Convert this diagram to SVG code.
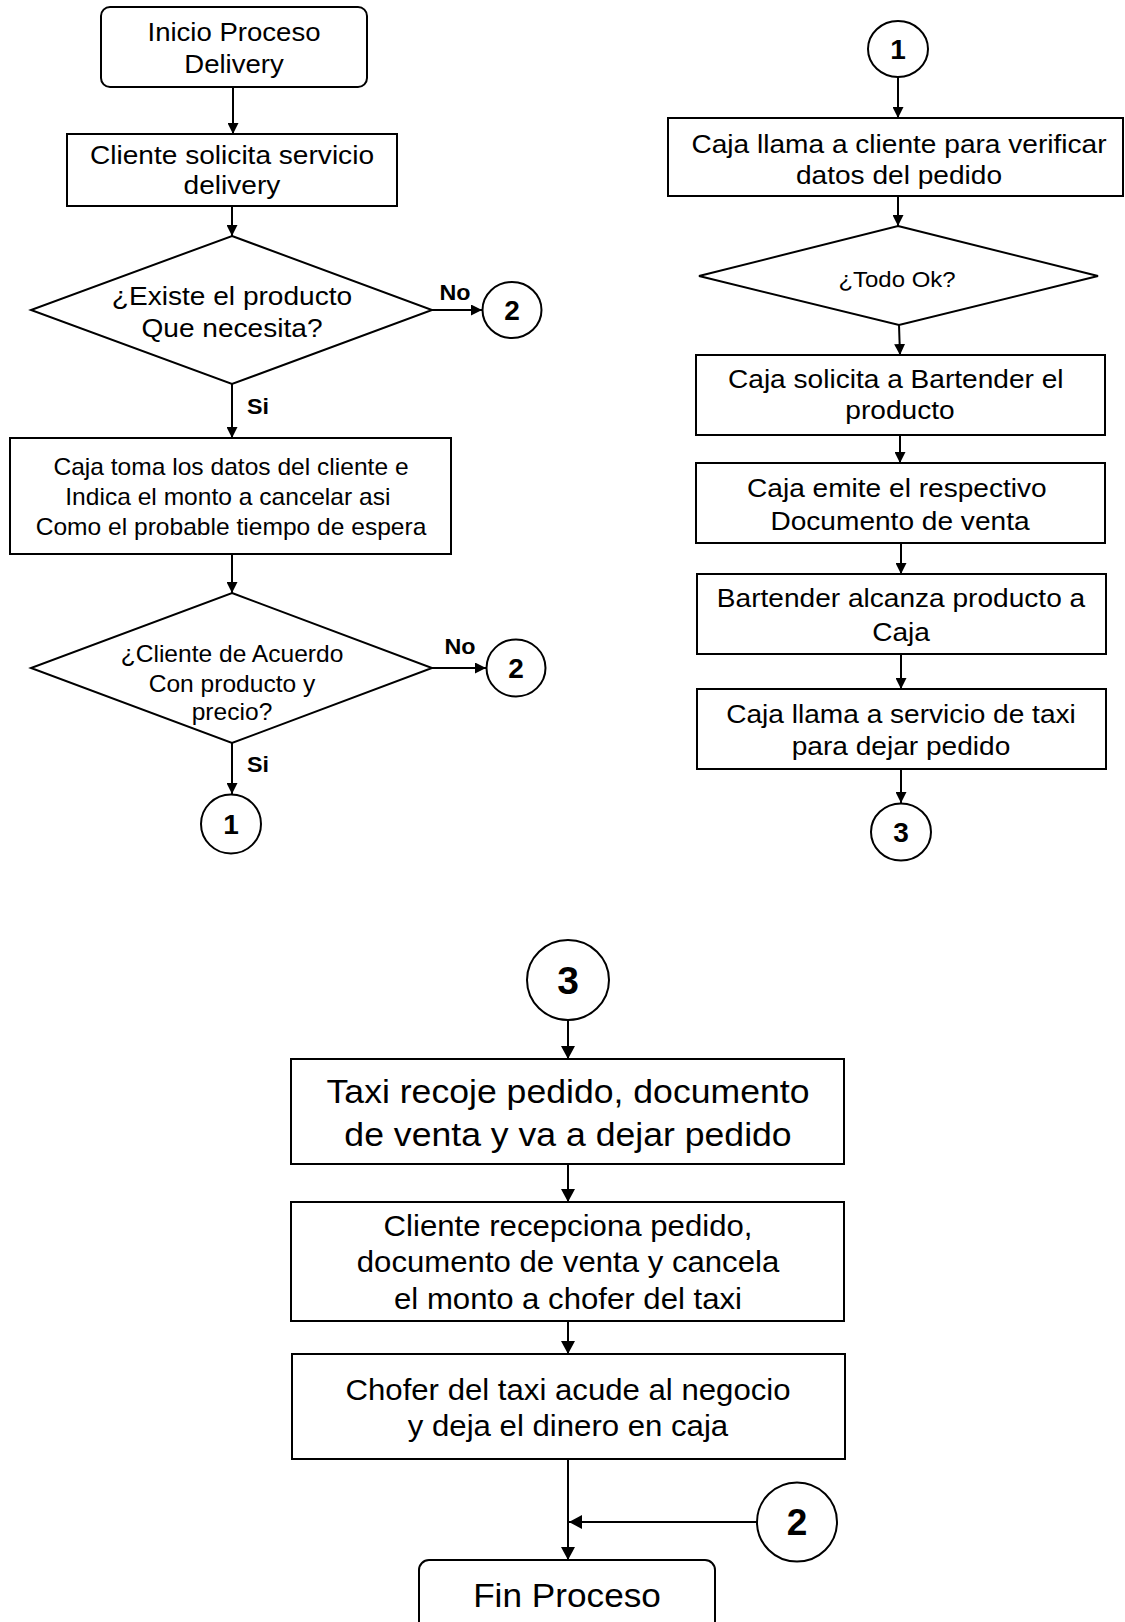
<svg xmlns="http://www.w3.org/2000/svg" width="1125" height="1622" viewBox="0 0 1125 1622">
  <style>
    .shape { fill: #ffffff; stroke: #000000; stroke-width: 2; }
    .link { fill: none; stroke: #000000; stroke-width: 2; }
    text { font-family: "Liberation Sans", Arial, sans-serif; fill: #000000; text-anchor: middle; }
    .b { font-weight: bold; }
  </style>
  <defs>
    <marker id="ah" viewBox="0 0 11 11" refX="11" refY="5.5" markerWidth="11" markerHeight="11" markerUnits="userSpaceOnUse" orient="auto">
      <path d="M0,0 L11,5.5 L0,11 z" fill="#000000"/>
    </marker>
    <marker id="ahL" viewBox="0 0 13 14" refX="13" refY="7" markerWidth="13" markerHeight="14" markerUnits="userSpaceOnUse" orient="auto">
      <path d="M0,0 L13,7 L0,14 z" fill="#000000"/>
    </marker>
  </defs>
  <rect width="1125" height="1622" fill="#ffffff"/>

  <!-- connectors -->
  <g id="connectors">
    <line class="link" x1="233" y1="87" x2="233" y2="134" marker-end="url(#ah)"/>
    <line class="link" x1="232" y1="206" x2="232" y2="236" marker-end="url(#ah)"/>
    <line class="link" x1="432" y1="310" x2="482" y2="310" marker-end="url(#ah)"/>
    <line class="link" x1="232" y1="384" x2="232" y2="438" marker-end="url(#ah)"/>
    <line class="link" x1="232" y1="554" x2="232" y2="593" marker-end="url(#ah)"/>
    <line class="link" x1="432" y1="668" x2="486" y2="668" marker-end="url(#ah)"/>
    <line class="link" x1="232" y1="743" x2="232" y2="794" marker-end="url(#ah)"/>

    <line class="link" x1="898" y1="77" x2="898" y2="118" marker-end="url(#ah)"/>
    <line class="link" x1="898" y1="196" x2="898" y2="226" marker-end="url(#ah)"/>
    <line class="link" x1="899" y1="325" x2="900" y2="355" marker-end="url(#ah)"/>
    <line class="link" x1="900" y1="435" x2="900" y2="463" marker-end="url(#ah)"/>
    <line class="link" x1="901" y1="543" x2="901" y2="574" marker-end="url(#ah)"/>
    <line class="link" x1="901" y1="654" x2="901" y2="689" marker-end="url(#ah)"/>
    <line class="link" x1="901" y1="769" x2="901" y2="803" marker-end="url(#ah)"/>

    <line class="link" x1="568" y1="1020" x2="568" y2="1059" marker-end="url(#ahL)"/>
    <line class="link" x1="568" y1="1164" x2="568" y2="1202" marker-end="url(#ahL)"/>
    <line class="link" x1="568" y1="1321" x2="568" y2="1354" marker-end="url(#ahL)"/>
    <line class="link" x1="568" y1="1459" x2="568" y2="1560" marker-end="url(#ahL)"/>
    <line class="link" x1="757" y1="1522" x2="569" y2="1522" marker-end="url(#ahL)"/>

    <text class="b" font-size="22" transform="translate(455 0) scale(1.06 1)" x="0" y="300">No</text>
    <text class="b" font-size="22" transform="translate(258 0) scale(1.06 1)" x="0" y="414">Si</text>
    <text class="b" font-size="22" transform="translate(460 0) scale(1.06 1)" x="0" y="654">No</text>
    <text class="b" font-size="22" transform="translate(258 0) scale(1.06 1)" x="0" y="772">Si</text>
  </g>

  <!-- left column -->
  <g id="start">
    <rect class="shape" x="101" y="7" width="266" height="80" rx="9"/>
    <text font-size="26" transform="translate(234 0) scale(1.06 1)"><tspan x="0" y="41">Inicio Proceso</tspan><tspan x="0" y="73">Delivery</tspan></text>
  </g>
  <g id="solicita">
    <rect class="shape" x="67" y="134" width="330" height="72"/>
    <text font-size="26.5" transform="translate(232 0) scale(1.06 1)"><tspan x="0" y="164">Cliente solicita servicio</tspan><tspan x="0" y="194">delivery</tspan></text>
  </g>
  <g id="existe">
    <polygon class="shape" points="232,236 432,310 232,384 31,310"/>
    <text font-size="26.5" transform="translate(232 0) scale(1.06 1)"><tspan x="0" y="305">¿Existe el producto</tspan><tspan x="0" y="337">Que necesita?</tspan></text>
  </g>
  <g id="conn2a">
    <ellipse class="shape" cx="512" cy="310" rx="29.5" ry="28"/>
    <text class="b" font-size="28" x="512" y="320">2</text>
  </g>
  <g id="datos">
    <rect class="shape" x="10" y="438" width="441" height="116"/>
    <text font-size="23.2" transform="translate(231 0) scale(1.06 1)"><tspan x="0" y="475">Caja toma los datos del cliente e</tspan><tspan x="-3" y="505">Indica el monto a cancelar asi</tspan><tspan x="0" y="535">Como el probable tiempo de espera</tspan></text>
  </g>
  <g id="acuerdo">
    <polygon class="shape" points="232,593 432,668 232,743 31,668"/>
    <text font-size="23.2" transform="translate(232 0) scale(1.06 1)"><tspan x="0" y="662">¿Cliente de Acuerdo</tspan><tspan x="0" y="692">Con producto y</tspan><tspan x="0" y="720">precio?</tspan></text>
  </g>
  <g id="conn2b">
    <ellipse class="shape" cx="516" cy="668" rx="29.5" ry="28.5"/>
    <text class="b" font-size="28" x="516" y="678">2</text>
  </g>
  <g id="conn1a">
    <ellipse class="shape" cx="231" cy="824" rx="30" ry="29.5"/>
    <text class="b" font-size="28" x="231" y="834">1</text>
  </g>

  <!-- right column -->
  <g id="conn1b">
    <ellipse class="shape" cx="898" cy="49" rx="30" ry="28"/>
    <text class="b" font-size="28" x="898" y="59">1</text>
  </g>
  <g id="verificar">
    <rect class="shape" x="668" y="118" width="455" height="78"/>
    <text font-size="26.5" transform="translate(899 0) scale(1.06 1)"><tspan x="0" y="153">Caja llama a cliente para verificar</tspan><tspan x="0" y="184">datos del pedido</tspan></text>
  </g>
  <g id="todook">
    <polygon class="shape" points="898,226 1098,276 899,325 699,276"/>
    <text font-size="22.6" transform="translate(897 0) scale(1.06 1)" x="0" y="287">¿Todo Ok?</text>
  </g>
  <g id="bartender">
    <rect class="shape" x="696" y="355" width="409" height="80"/>
    <text font-size="26.5" transform="translate(900 0) scale(1.06 1)"><tspan x="-4" y="388">Caja solicita a Bartender el</tspan><tspan x="0" y="419">producto</tspan></text>
  </g>
  <g id="documento">
    <rect class="shape" x="696" y="463" width="409" height="80"/>
    <text font-size="26.5" transform="translate(900 0) scale(1.06 1)"><tspan x="-3" y="497">Caja emite el respectivo</tspan><tspan x="0" y="530">Documento de venta</tspan></text>
  </g>
  <g id="alcanza">
    <rect class="shape" x="697" y="574" width="409" height="80"/>
    <text font-size="26.5" transform="translate(901 0) scale(1.06 1)"><tspan x="0" y="607">Bartender alcanza producto a</tspan><tspan x="0" y="641">Caja</tspan></text>
  </g>
  <g id="taxi">
    <rect class="shape" x="697" y="689" width="409" height="80"/>
    <text font-size="26.5" transform="translate(901 0) scale(1.06 1)"><tspan x="0" y="723">Caja llama a servicio de taxi</tspan><tspan x="0" y="755">para dejar pedido</tspan></text>
  </g>
  <g id="conn3a">
    <ellipse class="shape" cx="901" cy="832" rx="30" ry="28.5"/>
    <text class="b" font-size="28" x="901" y="842">3</text>
  </g>

  <!-- bottom section -->
  <g id="conn3b">
    <ellipse class="shape" cx="568" cy="980" rx="41" ry="40"/>
    <text class="b" font-size="39" x="568" y="994">3</text>
  </g>
  <g id="recoje">
    <rect class="shape" x="291" y="1059" width="553" height="105"/>
    <text font-size="33.6" transform="translate(568 0) scale(1.06 1)"><tspan x="0" y="1103">Taxi recoje pedido, documento</tspan><tspan x="0" y="1146">de venta y va a dejar pedido</tspan></text>
  </g>
  <g id="recepciona">
    <rect class="shape" x="291" y="1202" width="553" height="119"/>
    <text font-size="29.4" transform="translate(568 0) scale(1.06 1)"><tspan x="0" y="1236">Cliente recepciona pedido,</tspan><tspan x="0" y="1272">documento de venta y cancela</tspan><tspan x="0" y="1309">el monto a chofer del taxi</tspan></text>
  </g>
  <g id="chofer">
    <rect class="shape" x="292" y="1354" width="553" height="105"/>
    <text font-size="29.4" transform="translate(568 0) scale(1.06 1)"><tspan x="0" y="1400">Chofer del taxi acude al negocio</tspan><tspan x="0" y="1436">y deja el dinero en caja</tspan></text>
  </g>
  <g id="conn2c">
    <ellipse class="shape" cx="797" cy="1522" rx="40" ry="39.5"/>
    <text class="b" font-size="37" x="797" y="1535">2</text>
  </g>
  <g id="fin">
    <rect class="shape" x="419" y="1560" width="296" height="90" rx="10"/>
    <text font-size="33.2" transform="translate(567 0) scale(1.06 1)" x="0" y="1607">Fin Proceso</text>
  </g>
</svg>
